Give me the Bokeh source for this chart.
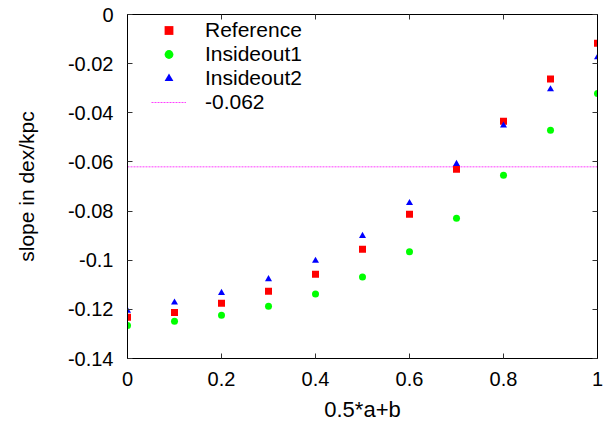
from bokeh.plotting import figure
from bokeh.models import (Range1d, LinearAxis, FixedTicker, CustomJSTickFormatter,
                          Legend, LegendItem)
from bokeh.embed import file_html
from bokeh.resources import INLINE

# ---- data ----
x_vals = [0.0, 0.1, 0.2, 0.3, 0.4, 0.5, 0.6, 0.7, 0.8, 0.9, 1.0]
reference = [-0.1232, -0.1213, -0.1175, -0.1126, -0.1057, -0.0955, -0.0813, -0.0630, -0.0434, -0.0263, -0.0117]
insideout1 = [-0.1266, -0.1248, -0.1224, -0.1187, -0.1138, -0.1068, -0.0966, -0.0829, -0.0654, -0.0471, -0.0322]
insideout2 = [-0.1206, -0.1172, -0.1133, -0.1077, -0.1002, -0.0901, -0.0767, -0.0608, -0.0452, -0.0304, -0.0174]
ref_level = -0.062
x_ticks = [0.0, 0.2, 0.4, 0.6, 0.8, 1.0]
y_ticks = [-0.14, -0.12, -0.10, -0.08, -0.06, -0.04, -0.02, 0.0]
x_limits = (0.0, 1.0)
y_limits = (-0.14, 0.0)

FONT = "Liberation Sans"

p = figure(width=606, height=428, output_backend="svg", toolbar_location=None,
           x_range=Range1d(*x_limits), y_range=Range1d(*y_limits),
           min_border_left=127, min_border_right=9, min_border_top=14, min_border_bottom=70,
           background_fill_color="white", border_fill_color="white")
p.grid.visible = False
p.outline_line_color = "black"
p.outline_line_width = 1

fmt = CustomJSTickFormatter(code="""
let s = tick.toFixed(2);
if (s.indexOf('.') >= 0) { s = s.replace(/0+$/, '').replace(/\\.$/, ''); }
if (s === '-0') { s = '0'; }
return s;
""")
blank_fmt = CustomJSTickFormatter(code="return '';")

def style_axis(ax, ticks, show_labels):
    ax.ticker = FixedTicker(ticks=ticks)
    ax.axis_line_color = "black"
    ax.axis_line_width = 1
    ax.major_tick_in = 5
    ax.major_tick_out = 0
    ax.major_tick_line_color = "#333333"
    ax.minor_tick_line_color = None
    if show_labels:
        ax.formatter = fmt
        ax.major_label_text_font = FONT
        ax.major_label_text_font_size = "20px"
        ax.major_label_text_color = "black"
        ax.axis_label_text_font = FONT
        ax.axis_label_text_font_size = "21px"
        ax.axis_label_text_font_style = "normal"
        ax.axis_label_text_color = "black"
    else:
        ax.formatter = blank_fmt
        ax.major_label_text_font_size = "1px"
        ax.major_label_standoff = 0

xa = p.xaxis[0]
ya = p.yaxis[0]
style_axis(xa, x_ticks, True)
style_axis(ya, y_ticks, True)
xa.axis_label = "0.5*a+b"
ya.axis_label = "slope in dex/kpc"
xa.axis_label_text_font_size = "22px"
xa.major_label_standoff = 13
xa.axis_label_standoff = 8
ya.major_label_standoff = 14
ya.axis_label_standoff = 27

top_ax = LinearAxis()
style_axis(top_ax, x_ticks, False)
p.add_layout(top_ax, "above")
right_ax = LinearAxis()
style_axis(right_ax, y_ticks, False)
p.add_layout(right_ax, "right")

r_line = p.line(x=list(x_limits), y=[ref_level, ref_level], line_color="#ff00ff",
                line_width=1, line_dash="2 1", line_alpha=0.75)
r_ref = p.scatter(x_vals, reference, marker="square", size=7,
                  fill_color="#ff0000", line_color=None)
r_io1 = p.scatter(x_vals, insideout1, marker="circle", size=7,
                  fill_color="#00ff00", line_color=None)
r_io2 = p.scatter(x_vals, insideout2, marker="triangle", size=7,
                  fill_color="#0000ff", line_color=None)

legend = Legend(items=[
    LegendItem(label="Reference", renderers=[r_ref]),
    LegendItem(label="Insideout1", renderers=[r_io1]),
    LegendItem(label="Insideout2", renderers=[r_io2]),
    LegendItem(label="-0.062", renderers=[r_line]),
], location=(24, 244))
legend.border_line_color = None
legend.background_fill_alpha = 0
legend.padding = 0
legend.margin = 0
legend.spacing = 0
legend.glyph_width = 35
legend.glyph_height = 22
legend.label_height = 22
legend.label_standoff = 19
legend.label_text_font = FONT
legend.label_text_font_size = "21px"
legend.label_text_color = "black"
p.add_layout(legend)

open("out.html", "w").write(file_html(p, INLINE))
